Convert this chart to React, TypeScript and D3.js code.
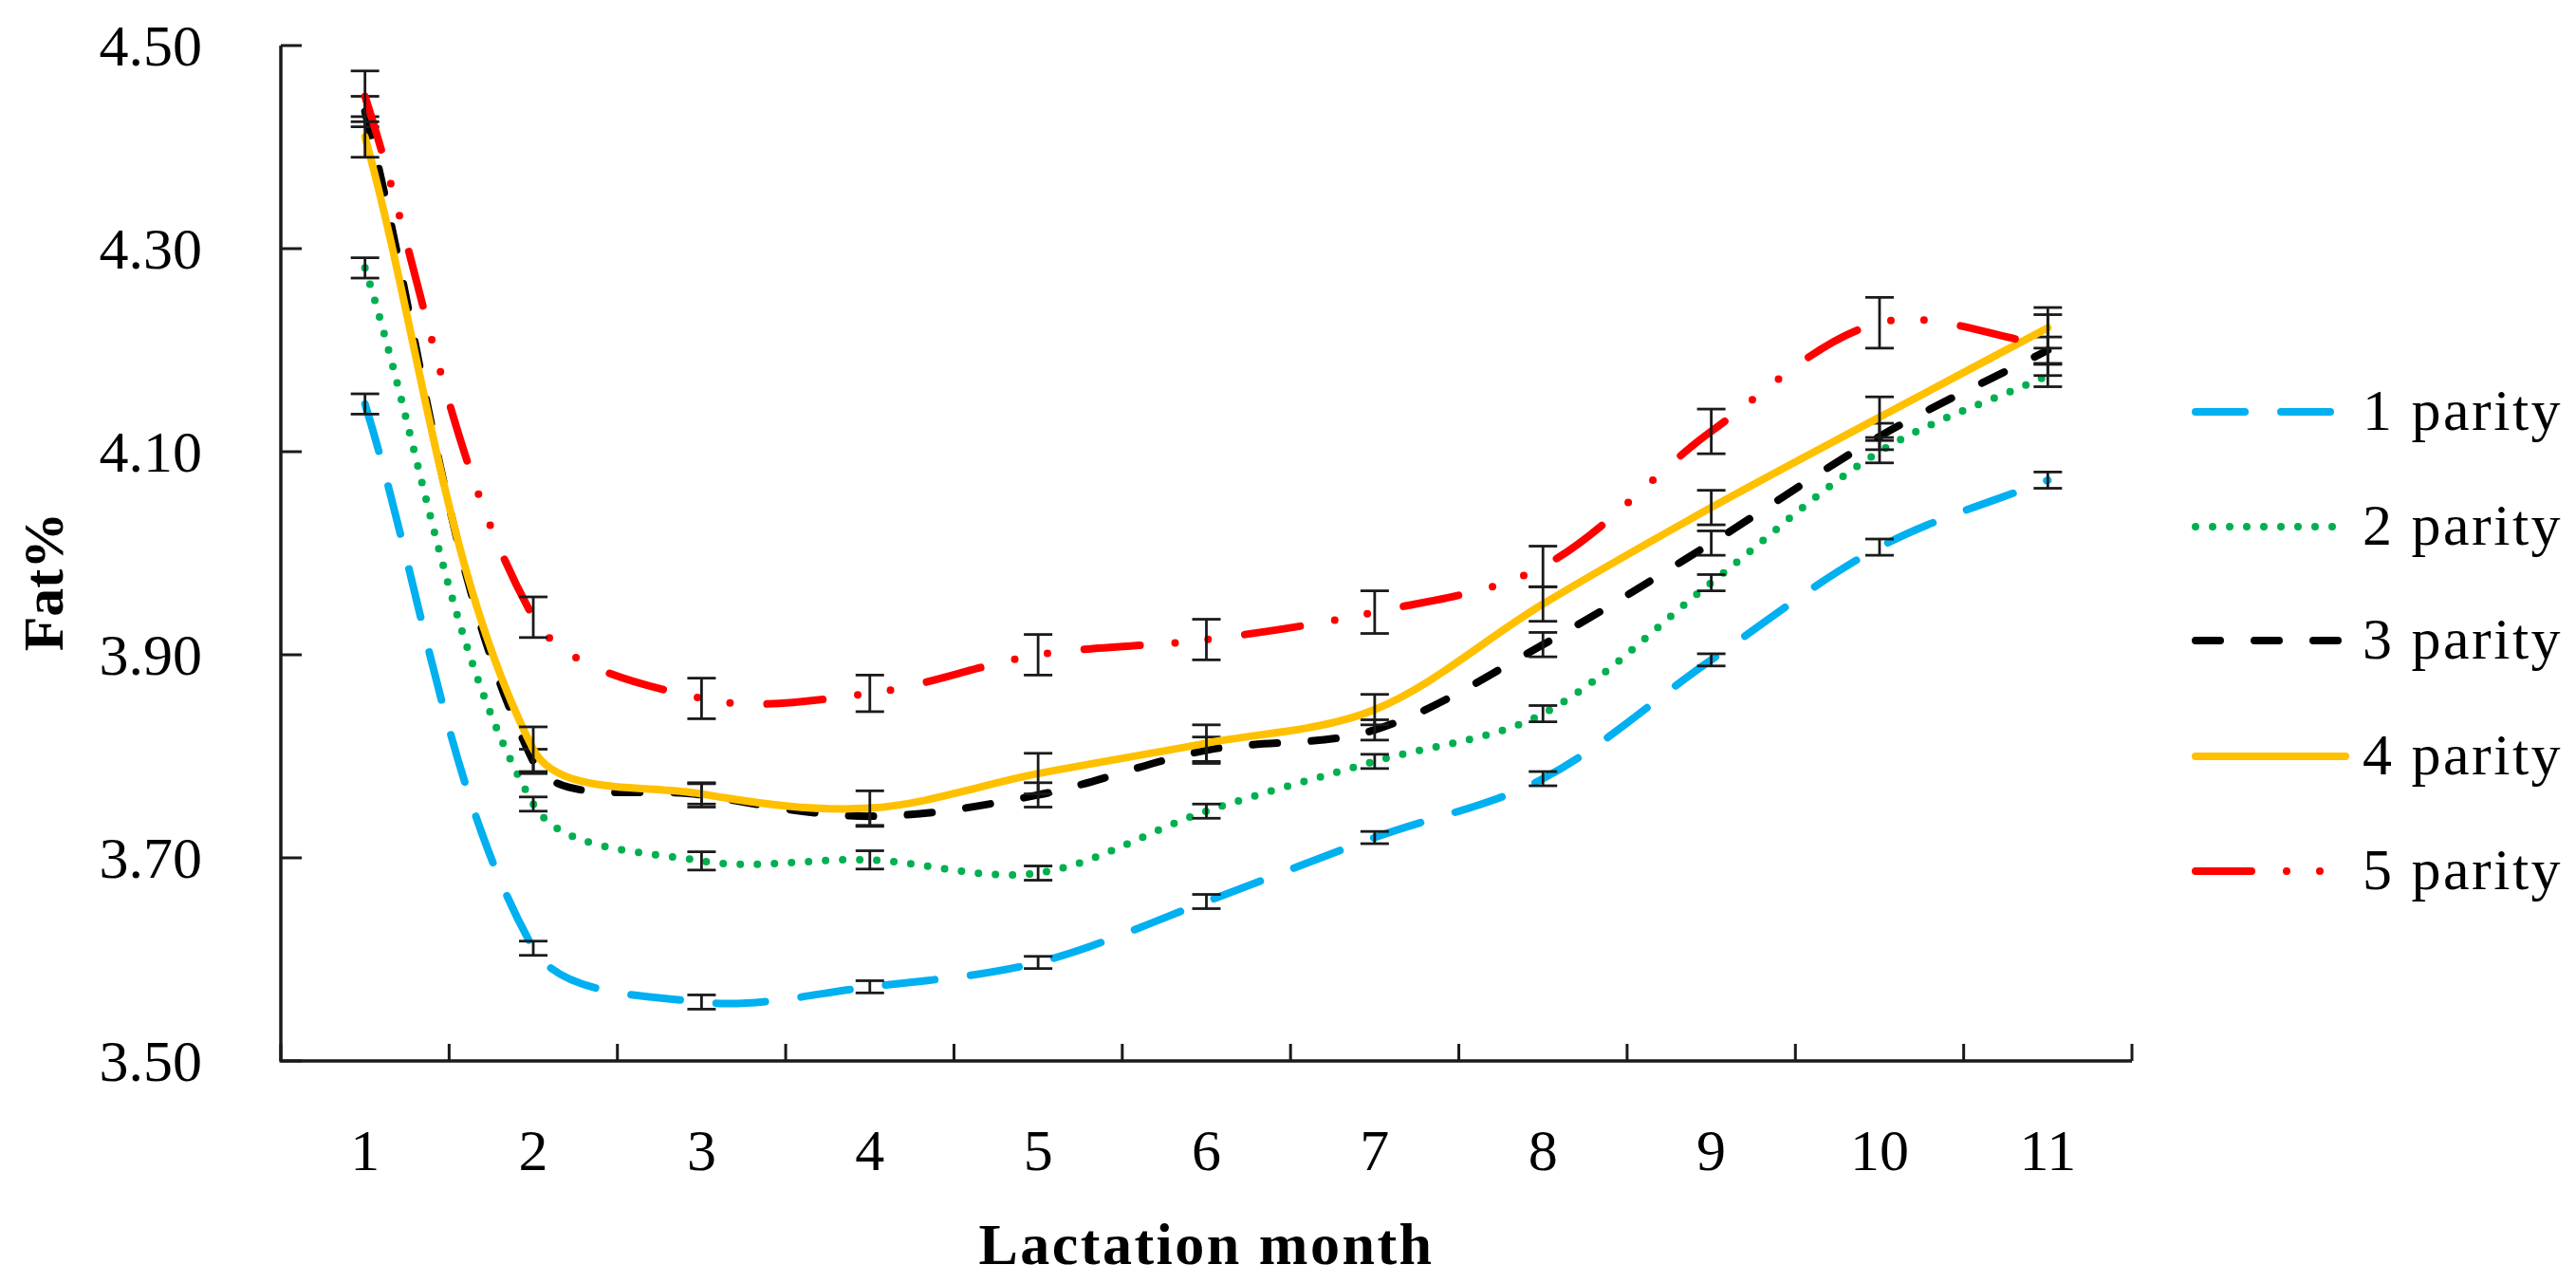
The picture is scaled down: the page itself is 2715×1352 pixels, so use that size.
import React from "react";
import * as d3 from "d3";

const months = [1, 2, 3, 4, 5, 6, 7, 8, 9, 10, 11];
const yTicks = [3.5, 3.7, 3.9, 4.1, 4.3, 4.5];
const seriesNames = ["1 parity", "2 parity", "3 parity", "4 parity", "5 parity"];

const parity1 = [4.147, 3.611, 3.558, 3.573, 3.597, 3.657, 3.72, 3.778, 3.895, 4.006, 4.072];
const err1 = [0.01, 0.007, 0.007, 0.006, 0.006, 0.007, 0.006, 0.007, 0.006, 0.008, 0.008];
const parity2 = [4.281, 3.753, 3.697, 3.698, 3.685, 3.746, 3.795, 3.842, 3.971, 4.1, 4.175];
const err2 = [0.01, 0.007, 0.009, 0.009, 0.007, 0.007, 0.007, 0.008, 0.008, 0.011, 0.011];
const parity3 = [4.435, 3.795, 3.762, 3.741, 3.762, 3.806, 3.826, 3.91, 4.01, 4.115, 4.2];
const err3 = [0.015, 0.012, 0.012, 0.01, 0.012, 0.013, 0.01, 0.012, 0.012, 0.013, 0.013];
const parity4 = [4.41, 3.807, 3.763, 3.749, 3.783, 3.813, 3.846, 3.95, 4.045, 4.134, 4.222];
const err4 = [0.02, 0.022, 0.01, 0.017, 0.02, 0.018, 0.015, 0.017, 0.017, 0.02, 0.02];
const parity5 = [4.45, 3.937, 3.857, 3.862, 3.9, 3.915, 3.942, 3.987, 4.12, 4.227, 4.205];
const err5 = [0.025, 0.02, 0.02, 0.018, 0.02, 0.02, 0.021, 0.02, 0.022, 0.025, 0.03];

const seriesValues = [parity1, parity2, parity3, parity4, parity5];
const seriesErrors = [err1, err2, err3, err4, err5];
const colors = ["#00B0F0", "#00B050", "#000000", "#FFC000", "#FF0000"];
const dashes = ["52 38", "0 18", "26 36", "none", "59 37 0 35 0 39"];

const W = 2715;
const H = 1352;
const x0 = 296;
const x1 = 2247;
const yTop = 48;
const yBot = 1118;
const FONT = "'Liberation Serif', 'Times New Roman', serif";

// Excel-like smoothed line: Catmull-Rom tangents scaled by chord lengths
function smoothPath(pts: [number, number][]): string {
  const p = d3.path();
  const n = pts.length;
  const dist = (a: [number, number], b: [number, number]) =>
    Math.hypot(b[0] - a[0], b[1] - a[1]);
  const ctrl = (i: number) => {
    const prev = pts[Math.max(0, i - 1)];
    const next = pts[Math.min(n - 1, i + 1)];
    const dp = i > 0 ? dist(pts[i - 1], pts[i]) : 0;
    const dn = i < n - 1 ? dist(pts[i], pts[i + 1]) : 0;
    const tx = next[0] - prev[0];
    const ty = next[1] - prev[1];
    const s = dp + dn || 1;
    return {
      out: [pts[i][0] + (tx * dn) / s / 3, pts[i][1] + (ty * dn) / s / 3],
      inn: [pts[i][0] - (tx * dp) / s / 3, pts[i][1] - (ty * dp) / s / 3],
    };
  };
  p.moveTo(pts[0][0], pts[0][1]);
  for (let i = 0; i < n - 1; i++) {
    const a = ctrl(i).out;
    const b = ctrl(i + 1).inn;
    p.bezierCurveTo(a[0], a[1], b[0], b[1], pts[i + 1][0], pts[i + 1][1]);
  }
  return p.toString();
}

export default function App() {
  const xBand = d3.scaleLinear().domain([0, 11]).range([x0, x1]);
  const xPos = (m: number) => xBand(m - 0.5);
  const y = d3.scaleLinear().domain([3.5, 4.5]).range([yBot, yTop]);

  const boundaries = d3.range(0, 12);
  const legendY = [434, 555, 675, 797, 918];

  return (
    <svg
      width={W}
      height={H}
      style={{ position: "absolute", left: 0, top: 0, background: "#fff" }}
      fontFamily={FONT}
    >
      <rect x={0} y={0} width={W} height={H} fill="#fff" />
      {/* axes */}
      <line x1={x0} y1={yTop} x2={x0} y2={yBot} stroke="#1a1a1a" strokeWidth={3.5} />
      <line x1={x0 - 1.5} y1={yBot} x2={x1} y2={yBot} stroke="#1a1a1a" strokeWidth={3.5} />
      {yTicks.map((t) => (
        <g key={t}>
          <line x1={x0} x2={x0 + 22} y1={y(t)} y2={y(t)} stroke="#1a1a1a" strokeWidth={3} />
          <text x={213} y={y(t) + 21} textAnchor="end" fontSize={62} fill="#000">
            {t.toFixed(2)}
          </text>
        </g>
      ))}
      {boundaries.map((b) => (
        <line
          key={b}
          x1={xBand(b)}
          x2={xBand(b)}
          y1={yBot}
          y2={yBot - 18}
          stroke="#1a1a1a"
          strokeWidth={3}
        />
      ))}
      {months.map((m) => (
        <text key={m} x={xPos(m)} y={1233} textAnchor="middle" fontSize={62} fill="#000">
          {m}
        </text>
      ))}
      <text
        x={(x0 + x1) / 2}
        y={1332}
        textAnchor="middle"
        fontSize={62}
        fontWeight="bold"
        letterSpacing={2.5}
        fill="#000"
      >
        Lactation month
      </text>
      <text
        transform={`translate(66, ${(yTop + yBot) / 2 + 30}) rotate(-90)`}
        textAnchor="middle"
        fontSize={60}
        fontWeight="bold"
        fill="#000"
      >
        Fat%
      </text>

      {/* series */}
      {seriesValues.map((vals, si) => (
        <g key={si}>
          <path
            d={smoothPath(vals.map((v, i) => [xPos(months[i]), y(v)] as [number, number]))}
            fill="none"
            stroke={colors[si]}
            strokeWidth={8}
            strokeLinecap="round"
            strokeLinejoin="round"
            strokeDasharray={dashes[si]}
          />
          {vals.map((v, i) => {
            const e = seriesErrors[si][i];
            const cx = xPos(months[i]);
            return (
              <g key={i} stroke="#1a1a1a" strokeWidth={2.8}>
                <line x1={cx} x2={cx} y1={y(v + e)} y2={y(v - e)} />
                <line x1={cx - 15} x2={cx + 15} y1={y(v + e)} y2={y(v + e)} />
                <line x1={cx - 15} x2={cx + 15} y1={y(v - e)} y2={y(v - e)} />
              </g>
            );
          })}
        </g>
      ))}

      {/* legend */}
      {seriesNames.map((name, si) => (
        <g key={name}>
          <line
            x1={2314}
            x2={2472}
            y1={legendY[si]}
            y2={legendY[si]}
            stroke={colors[si]}
            strokeWidth={8}
            strokeLinecap="round"
            strokeDasharray={dashes[si]}
          />
          <text x={2490} y={legendY[si] + 19} fontSize={62} letterSpacing={2.5} fill="#000">
            {name}
          </text>
        </g>
      ))}
    </svg>
  );
}
